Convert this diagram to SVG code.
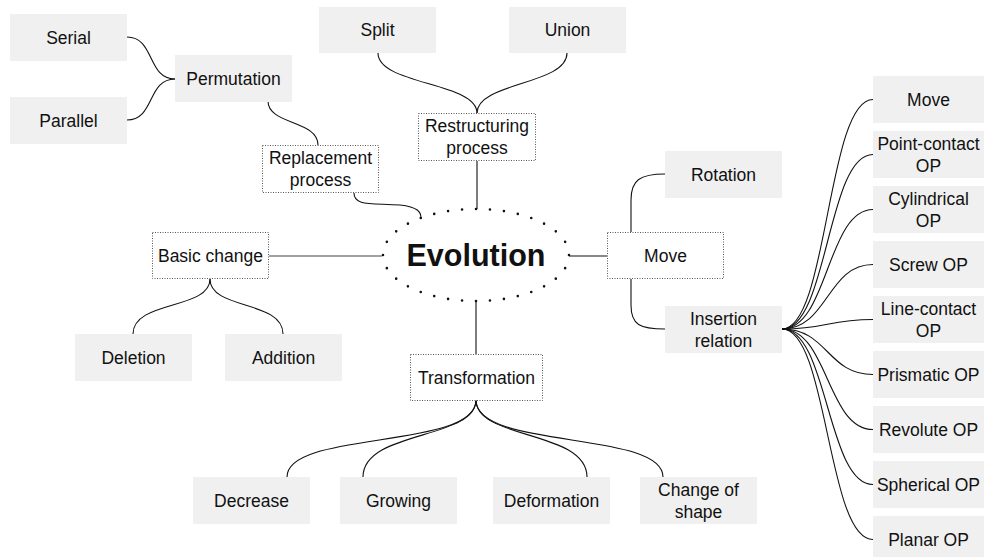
<svg xmlns="http://www.w3.org/2000/svg" width="984" height="557" viewBox="0 0 984 557">
<style>
.b{fill:#f0f0f0;stroke:none}
.d{fill:#fff;stroke:#555;stroke-width:1;stroke-dasharray:1 1.5}
text{font-family:"Liberation Sans",Arial,Helvetica,sans-serif;font-size:17.5px;fill:#111;text-anchor:middle}
.c path{fill:none;stroke:#111;stroke-width:1.1}
</style>
<rect width="984" height="557" fill="#fff"/>
<g class="c" id="connectors">
<path d="M127,37 C155,37 147,79 175,79"/>
<path d="M127,120 C155,120 147,79 175,79"/>
<path d="M268,101 C268,125 318,120 318,145"/>
<path d="M378,53 C378,85 477,82 477,113"/>
<path d="M567,53 C567,85 477,82 477,113"/>
<path d="M477,161 L477,209"/>
<path d="M354,193 C354,206 370,203 400,205 C418,207 421,212 421,218"/>
<path d="M269,256 L382,256" stroke-width="1.6" style="stroke:#444"/>
<path d="M210,279 C210,310 133,300 133,334"/>
<path d="M210,279 C210,310 283,300 283,334"/>
<path d="M476,301 L476,354"/>
<path d="M476,400 C476,450 287,430 287,477"/>
<path d="M476,400 C476,440 363,430 363,477"/>
<path d="M476,400 C476,440 587,430 587,477"/>
<path d="M476,400 C476,450 663,430 663,477"/>
<path d="M569,256 L607,256"/>
<path d="M631,232 L631,200 C631,180 640,174 665,174"/>
<path d="M631,279 L631,305 C631,325 640,329 665,329"/>
<path d="M782,329 C828,329 827,99.5 873,99.5"/>
<path d="M782,329 C828,329 827,154.5 873,154.5"/>
<path d="M782,329 C828,329 827,209.5 873,209.5"/>
<path d="M782,329 C828,329 827,264.5 873,264.5"/>
<path d="M782,329 C828,329 827,319.5 873,319.5"/>
<path d="M782,329 C828,329 827,374.5 873,374.5"/>
<path d="M782,329 C828,329 827,429.5 873,429.5"/>
<path d="M782,329 C828,329 827,484.5 873,484.5"/>
<path d="M782,329 C828,329 827,539.5 873,539.5"/>
</g>
<g id="evolution">
<ellipse cx="476" cy="255" rx="93" ry="46" fill="#fff" stroke="#111" stroke-width="2.6" stroke-linecap="round" pathLength="32" stroke-dasharray="0 1"/>
<text x="476" y="266" style="font-size:30.5px;font-weight:bold">Evolution</text>
</g>
<g id="serial"><rect class="b" x="10" y="14" width="117" height="47"/><text x="68.5" y="43.5">Serial</text></g>
<g id="parallel"><rect class="b" x="10" y="97" width="117" height="47"/><text x="68.5" y="126.5">Parallel</text></g>
<g id="permutation"><rect class="b" x="175" y="55" width="117" height="47"/><text x="233.5" y="84.5">Permutation</text></g>
<g id="split"><rect class="b" x="319" y="7" width="117" height="46"/><text x="377.5" y="36">Split</text></g>
<g id="union"><rect class="b" x="509" y="7" width="117" height="46"/><text x="567.5" y="36">Union</text></g>
<g id="restructuring"><rect class="d" x="418.5" y="113.5" width="117" height="47"/><text x="477" y="132">Restructuring</text><text x="477" y="154">process</text></g>
<g id="replacement"><rect class="d" x="262.5" y="145.5" width="116" height="47"/><text x="320.5" y="164">Replacement</text><text x="320.5" y="186">process</text></g>
<g id="basic-change"><rect class="d" x="152.5" y="232.5" width="116" height="46"/><text x="210.5" y="261.5">Basic change</text></g>
<g id="deletion"><rect class="b" x="75" y="334" width="117" height="47"/><text x="133.5" y="363.5">Deletion</text></g>
<g id="addition"><rect class="b" x="225" y="334" width="117" height="47"/><text x="283.5" y="363.5">Addition</text></g>
<g id="transformation"><rect class="d" x="410.5" y="354.5" width="132" height="46"/><text x="476.5" y="383.5">Transformation</text></g>
<g id="decrease"><rect class="b" x="193" y="477" width="117" height="47"/><text x="251.5" y="506.5">Decrease</text></g>
<g id="growing"><rect class="b" x="340" y="477" width="117" height="47"/><text x="398.5" y="506.5">Growing</text></g>
<g id="deformation"><rect class="b" x="493" y="477" width="117" height="47"/><text x="551.5" y="506.5">Deformation</text></g>
<g id="change-of-shape"><rect class="b" x="640" y="477" width="117" height="47"/><text x="698.5" y="496">Change of</text><text x="698.5" y="518">shape</text></g>
<g id="move"><rect class="d" x="607.5" y="232.5" width="116" height="46"/><text x="665.5" y="261.5">Move</text></g>
<g id="rotation"><rect class="b" x="665" y="151" width="117" height="47"/><text x="723.5" y="180.5">Rotation</text></g>
<g id="insertion"><rect class="b" x="665" y="306" width="117" height="47"/><text x="723.5" y="325">Insertion</text><text x="723.5" y="347">relation</text></g>
<g id="op-move"><rect class="b" x="873" y="76" width="117" height="47"/><text x="928.5" y="105.5">Move</text></g>
<g id="op-point"><rect class="b" x="873" y="131" width="117" height="47"/><text x="928.5" y="150">Point-contact</text><text x="928.5" y="172">OP</text></g>
<g id="op-cyl"><rect class="b" x="873" y="186" width="117" height="47"/><text x="928.5" y="205">Cylindrical</text><text x="928.5" y="227">OP</text></g>
<g id="op-screw"><rect class="b" x="873" y="241" width="117" height="47"/><text x="928.5" y="270.5">Screw OP</text></g>
<g id="op-line"><rect class="b" x="873" y="296" width="117" height="47"/><text x="928.5" y="315">Line-contact</text><text x="928.5" y="337">OP</text></g>
<g id="op-prismatic"><rect class="b" x="873" y="351" width="117" height="47"/><text x="928.5" y="380.5">Prismatic OP</text></g>
<g id="op-revolute"><rect class="b" x="873" y="406" width="117" height="47"/><text x="928.5" y="435.5">Revolute OP</text></g>
<g id="op-spherical"><rect class="b" x="873" y="461" width="117" height="47"/><text x="928.5" y="490.5">Spherical OP</text></g>
<g id="op-planar"><rect class="b" x="873" y="516" width="117" height="47"/><text x="928.5" y="545.5">Planar OP</text></g>
</svg>
